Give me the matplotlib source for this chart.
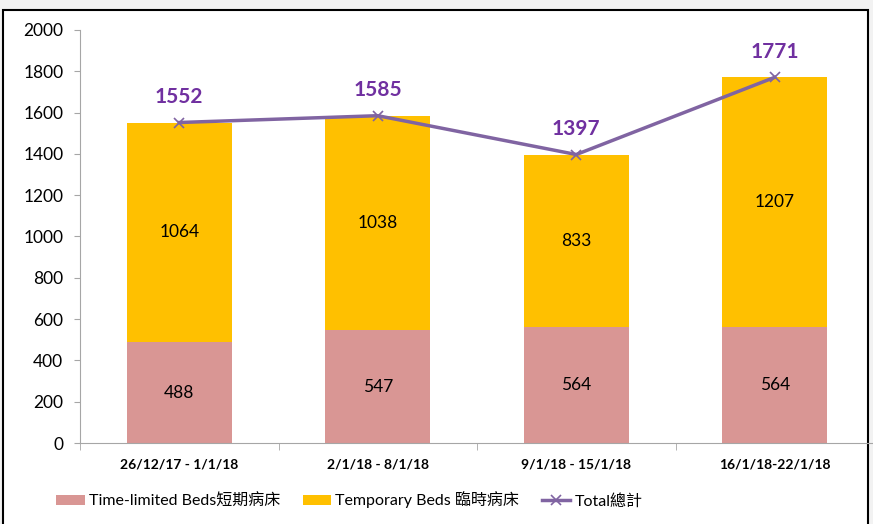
import matplotlib.pyplot as plt
from matplotlib.patches import Rectangle
import numpy as np

plt.rcParams['font.family'] = ['Lato', 'Noto Sans CJK TC', 'DejaVu Sans']

weeks = ['26/12/17 - 1/1/18', '2/1/18 - 8/1/18', '9/1/18 - 15/1/18', '16/1/18-22/1/18']
time_limited = [488, 547, 564, 564]
temporary = [1064, 1038, 833, 1207]
total = [1552, 1585, 1397, 1771]

fig = plt.figure(figsize=(8.73, 5.24), dpi=100)
fig.patch.set_facecolor('#f2f2f2')
# white chart panel with black frame
fig.patches.append(Rectangle((3 / 873, -0.01), 865 / 873, 1 - 10 / 524 + 0.01,
                             transform=fig.transFigure, facecolor='white',
                             edgecolor='black', linewidth=1.5, zorder=-10))

ax = fig.add_axes([80 / 873, 1 - 443 / 524, 794 / 873, 413 / 524])
ax.set_facecolor('none')
x = np.arange(len(weeks))
w = 0.53
b1 = ax.bar(x, time_limited, w, color='#D99694', label='Time-limited Beds短期病床')
b2 = ax.bar(x, temporary, w, bottom=time_limited, color='#FFC000', label='Temporary Beds 臨時病床')
ln, = ax.plot(x, total, color='#8064A2', lw=2.5, marker='x', ms=7, mew=1.2, label='Total總計')

for i in range(len(weeks)):
    ax.text(x[i], time_limited[i] / 2, str(time_limited[i]), ha='center', va='center', fontsize=12.5)
    ax.text(x[i], time_limited[i] + temporary[i] / 2, str(temporary[i]), ha='center', va='center', fontsize=12.5)
    ax.text(x[i], total[i] + 75, str(total[i]), ha='center', va='bottom', fontsize=15,
            fontweight='bold', color='#7030A0')

ax.set_xlim(-0.5, 3.5)
ax.set_ylim(0, 2000)
ax.set_yticks(range(0, 2001, 200))
ax.tick_params(axis='y', labelsize=12.5, length=4, color='#a6a6a6', pad=8)
ax.set_xticks(x)
ax.set_xticklabels(weeks, fontsize=10, fontweight='bold')
ax.tick_params(axis='x', length=0, pad=11)
ax.set_xticks(np.arange(-0.5, 3.6, 1), minor=True)
ax.tick_params(axis='x', which='minor', length=5, color='#a6a6a6')
for s in ['top', 'right']:
    ax.spines[s].set_visible(False)
for s in ['left', 'bottom']:
    ax.spines[s].set_color('#a6a6a6')

fig.legend(handles=[b1, b2, ln], loc='center left', bbox_to_anchor=(42 / 873, 1 - 500 / 524), ncol=3,
           frameon=False, fontsize=11.5, handlelength=1.8, handleheight=0.6,
           columnspacing=1.4, handletextpad=0.25)

fig.savefig('out.png', dpi=100, facecolor=fig.get_facecolor())
